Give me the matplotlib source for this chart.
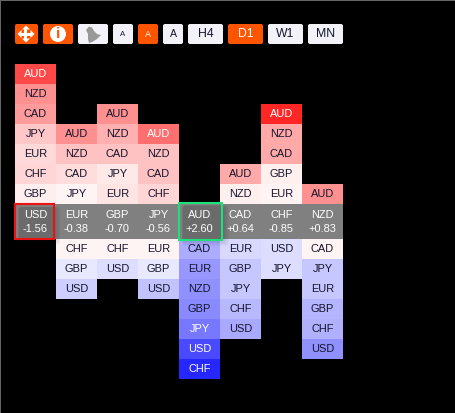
import matplotlib
matplotlib.use('Agg')
import matplotlib.pyplot as plt
from matplotlib.colors import LinearSegmentedColormap, Normalize
from matplotlib.patches import Circle, FancyBboxPatch, Polygon, Rectangle

plt.rcParams['font.family'] = ['Liberation Sans', 'DejaVu Sans']

# one column per currency, read top to bottom
center_labels = ['USD', 'EUR', 'GBP', 'JPY', 'AUD', 'CAD', 'CHF', 'NZD']
center_values = ['-1.56', '-0.38', '-0.70', '-0.56', '+2.60', '+0.64', '-0.85', '+0.83']

above_labels = [
    ['AUD', 'NZD', 'CAD', 'JPY', 'EUR', 'CHF', 'GBP'],
    ['AUD', 'NZD', 'CAD', 'JPY'],
    ['AUD', 'NZD', 'CAD', 'JPY', 'EUR'],
    ['AUD', 'NZD', 'CAD', 'CHF'],
    [],
    ['AUD', 'NZD'],
    ['AUD', 'NZD', 'CAD', 'GBP', 'EUR'],
    ['AUD'],
]
above_heat = [
    [0.70, 0.41, 0.36, 0.18, 0.11, 0.13, 0.03],
    [0.41, 0.21, 0.10, 0.00],
    [0.41, 0.28, 0.21, 0.05, 0.07],
    [0.54, 0.21, 0.21, 0.13],
    [],
    [0.31, 0.02],
    [0.84, 0.31, 0.31, 0.02, 0.00],
    [0.41],
]
below_labels = [
    [],
    ['CHF', 'GBP', 'USD'],
    ['CHF', 'USD'],
    ['EUR', 'GBP', 'USD'],
    ['CAD', 'EUR', 'NZD', 'GBP', 'JPY', 'USD', 'CHF'],
    ['EUR', 'GBP', 'JPY', 'CHF', 'USD'],
    ['USD', 'JPY'],
    ['CAD', 'JPY', 'EUR', 'GBP', 'CHF', 'USD'],
]
below_heat = [
    [],
    [0.00, -0.05, -0.15],
    [0.00, -0.10],
    [0.00, -0.05, -0.21],
    [-0.30, -0.38, -0.41, -0.43, -0.51, -0.70, -0.84],
    [-0.11, -0.18, -0.18, -0.25, -0.31],
    [-0.10, -0.10],
    [0.00, -0.18, -0.18, -0.26, -0.28, -0.41],
]

small_buttons = ['A', 'A', 'A']
period_buttons = ['H4', 'D1', 'W1', 'MN']

ORANGE = '#ff5500'
LIGHT = '#f2f2f8'
DARK_TEXT = '#14142b'
X0, CELL_W, CELL_H = 15, 41, 20
MID_TOP, MID_BOTTOM = 204, 239

# pure red and blue hues either side of the neutral tint
cmap = LinearSegmentedColormap.from_list('heat', [
    (0.0, '#0000ff'), (0.499, '#f4f4ff'), (0.5, '#f4f4fa'), (0.501, '#fff4f4'), (1.0, '#ff0000')])
norm = Normalize(-1, 1)

fig = plt.figure(figsize=(4.56, 4.13), dpi=100, facecolor='black')
ax = fig.add_axes([0, 0, 1, 1])
ax.set_xlim(0, 456)
ax.set_ylim(413, 0)
ax.axis('off')


def draw_cell(col, top, label, heat):
    x = X0 + col * CELL_W
    ax.add_patch(Rectangle((x, top), CELL_W, CELL_H, fc=cmap(norm(heat)), ec='none', zorder=1))
    color = 'white' if abs(heat) >= 0.5 else DARK_TEXT
    ax.text(x + CELL_W / 2, top + CELL_H / 2 + 0.3, label, color=color, fontsize=7.9,
            ha='center', va='center', zorder=6)


def button(x, w, color, label=None, size=8.8, text_color=DARK_TEXT):
    ax.add_patch(FancyBboxPatch((x + 2, 26), w - 4, 16, boxstyle='round,pad=2,rounding_size=2',
                                fc=color, ec='none'))
    if label:
        ax.text(x + w / 2, 34.3, label, color=text_color, fontsize=size, ha='center', va='center')


for col in range(len(center_labels)):
    for i, (lab, h) in enumerate(zip(above_labels[col], above_heat[col])):
        draw_cell(col, MID_TOP - (len(above_labels[col]) - i) * CELL_H, lab, h)
    for i, (lab, h) in enumerate(zip(below_labels[col], below_heat[col])):
        draw_cell(col, MID_BOTTOM + i * CELL_H, lab, h)

# gray middle row
ax.add_patch(Rectangle((X0, MID_TOP), CELL_W * len(center_labels), MID_BOTTOM - MID_TOP,
                       fc='#808080', ec='none', zorder=2))
for col, (lab, val) in enumerate(zip(center_labels, center_values)):
    xc = X0 + col * CELL_W + CELL_W / 2
    ax.text(xc, 214.5, lab, color='white', fontsize=7.9, ha='center', va='center', zorder=6)
    ax.text(xc, 229.5, val, color='white', fontsize=7.9, ha='center', va='center', zorder=6)

# faint shadow and outline on weakest and strongest
weakest = center_values.index('-1.56')
strongest = center_values.index('+2.60')
boxes = ((weakest, '#ee1111', 0.5, 38.5, 204, 34.5), (strongest, '#1de27a', 0.5, 43, 202.5, 37))
for col, edge, dx, w, top, h in boxes:
    x = X0 + col * CELL_W + dx
    for grow, alpha in ((6, 0.05), (4, 0.05), (2, 0.06)):
        ax.add_patch(FancyBboxPatch((x + 3, top + 3), w - 3 + grow, h - 3 + grow,
                                    boxstyle='round,pad=0,rounding_size=3', fc='black', ec='none',
                                    alpha=alpha, zorder=3))
    ax.add_patch(Rectangle((x, top), w, h, fc='none', ec=edge, lw=1.5, zorder=5))

# toolbar
button(15, 23, ORANGE)
xc, yc = 26, 34
ax.add_patch(Rectangle((xc - 6, yc - 1.5), 12, 3, fc='white', ec='none'))
ax.add_patch(Rectangle((xc - 1.5, yc - 6), 3, 12, fc='white', ec='none'))
for dx, dy in ((1, 0), (-1, 0), (0, 1), (0, -1)):
    tip = (xc + 8.5 * dx, yc + 8.5 * dy)
    a = (xc + 4.5 * dx + 4 * dy, yc + 4.5 * dy + 4 * dx)
    b = (xc + 4.5 * dx - 4 * dy, yc + 4.5 * dy - 4 * dx)
    ax.add_patch(Polygon([tip, a, b], fc='white', ec='none'))

button(43, 30, ORANGE)
ax.add_patch(Circle((58, 34), 8, fc='white', ec='none'))
ax.text(58, 34.4, 'i', color=ORANGE, fontsize=11, fontweight='bold', ha='center', va='center')

button(78, 30, LIGHT)
ax.add_patch(Polygon([(86, 30), (89, 26.5), (92, 27.5), (94, 31), (97, 34), (101, 35), (97, 39),
                      (92, 42), (89, 43), (88, 39), (88, 34)], fc='#999999', ec='none'))

for x, lab, size, fc, tc in zip((113, 138, 163), small_buttons, (5.6, 6.4, 7.6),
                                (LIGHT, ORANGE, LIGHT), (DARK_TEXT, 'white', DARK_TEXT)):
    button(x, 20, fc, lab, size, tc)

for x, lab in zip((188, 228, 268, 308), period_buttons):
    on = lab == 'D1'
    button(x, 35, ORANGE if on else LIGHT, lab, 8.8, 'white' if on else DARK_TEXT)

# window border
ax.add_patch(Rectangle((0, 0), 456, 1, fc='#666666', ec='none', zorder=7))
ax.add_patch(Rectangle((0, 0), 1.5, 413, fc='#666666', ec='none', zorder=7))

fig.savefig('out.png', dpi=100, facecolor='black')
